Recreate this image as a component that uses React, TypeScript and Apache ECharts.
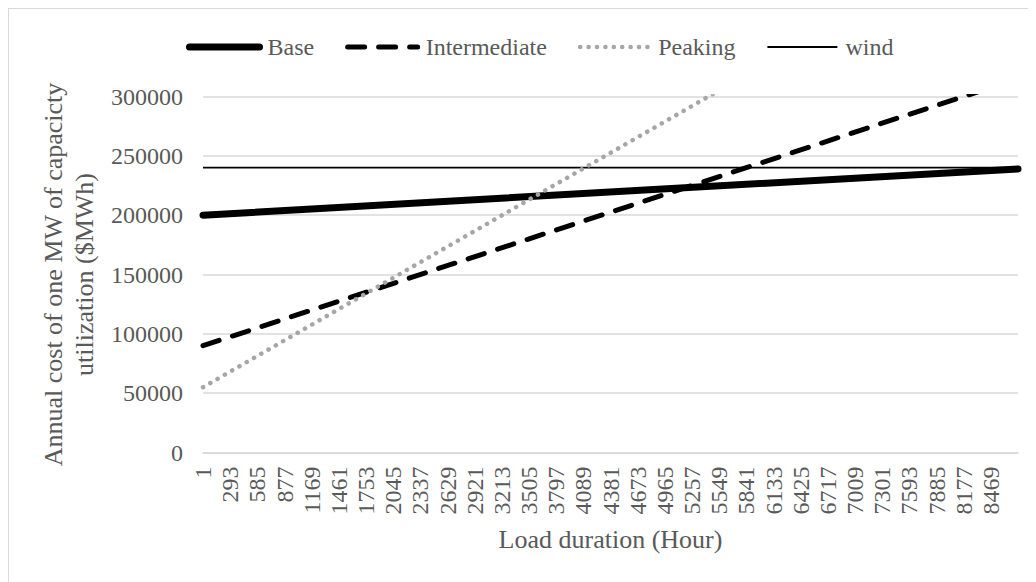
import React, { useEffect, useRef } from "react";
import * as echarts from "echarts";

// Load duration endpoints (hours) and annual cost of one MW at each end
const hours = [1, 8760];
const baseCost = [200000, 239000];
const intermediateCost = [90000, 315000];
const peakingCost = [55000, 450000];
const windCost = [240000, 240000];

// Hour labels shown along the horizontal axis
const hourTicks = [
  1, 293, 585, 877, 1169, 1461, 1753, 2045, 2337, 2629, 2921, 3213, 3505,
  3797, 4089, 4381, 4673, 4965, 5257, 5549, 5841, 6133, 6425, 6717, 7009,
  7301, 7593, 7885, 8177, 8469,
];

const costTicks = [0, 50000, 100000, 150000, 200000, 250000, 300000];

const pairs = (ys: number[]) => hours.map((h, i) => [h, ys[i]]);

const FONT = "'Liberation Serif', 'Times New Roman', serif";
const TEXT = "#595959";
const GRID = "#d9d9d9";

const baseLine = { color: "#000", width: 7, type: "solid", cap: "round" };
const intermediateLine = { color: "#000", width: 5, type: [17, 14], cap: "round" };
const peakingLine = { color: "#a6a6a6", width: 4.5, type: [0.1, 8.3], cap: "round" };
const windLine = { color: "#000", width: 1.8, type: "solid" };

const hiddenSymbol = { opacity: 0 };

export default function App() {
  const ref = useRef<HTMLDivElement>(null);

  useEffect(() => {
    if (!ref.current) return;
    const chart = echarts.init(ref.current, undefined, { renderer: "svg" });
    chart.setOption({
      animation: false,
      textStyle: { fontFamily: FONT, color: TEXT },
      legend: {
        top: 21,
        left: 172,
        itemWidth: 70,
        itemHeight: 14,
        itemGap: 31,
        textStyle: { fontFamily: FONT, fontSize: 24, color: TEXT, padding: [0, 0, 0, 3] },
        data: [
          { name: "Base", lineStyle: baseLine, itemStyle: hiddenSymbol },
          { name: "Intermediate", lineStyle: intermediateLine, itemStyle: hiddenSymbol },
          { name: "Peaking", lineStyle: peakingLine, itemStyle: hiddenSymbol },
          { name: "wind", lineStyle: windLine, itemStyle: hiddenSymbol },
        ],
      },
      grid: { left: 194, top: 87.5, width: 815, height: 356, containLabel: false },
      xAxis: {
        type: "value",
        min: 1,
        max: 8760,
        name: "Load duration (Hour)",
        nameLocation: "middle",
        nameGap: 74,
        nameTextStyle: { fontFamily: FONT, fontSize: 26, color: TEXT },
        axisLine: { show: true, lineStyle: { color: GRID, width: 1.5 } },
        axisTick: { show: false },
        splitLine: { show: false },
        axisLabel: {
          customValues: hourTicks,
          formatter: (v: number) => String(v),
          rotate: 90,
          margin: 14,
          fontFamily: FONT,
          fontSize: 24,
          color: TEXT,
        },
      },
      yAxis: {
        type: "value",
        min: 0,
        max: 300000,
        interval: 50000,
        name: "Annual cost of one MW of capacicty\nutilization ($MWh)",
        nameLocation: "middle",
        nameGap: 97,
        nameTextStyle: { fontFamily: FONT, fontSize: 26, color: TEXT, lineHeight: 31 },
        axisLine: { show: false },
        axisTick: { show: false },
        splitLine: { show: true, lineStyle: { color: GRID, width: 1.5 } },
        axisLabel: {
          customValues: costTicks,
          formatter: (v: number) => String(v),
          margin: 20,
          fontFamily: FONT,
          fontSize: 24,
          color: TEXT,
        },
      },
      series: [
        {
          name: "Base",
          type: "line",
          data: pairs(baseCost),
          symbol: "none",
          lineStyle: baseLine,
          itemStyle: { color: "#000" },
          z: 3,
        },
        {
          name: "Intermediate",
          type: "line",
          data: pairs(intermediateCost),
          symbol: "none",
          lineStyle: intermediateLine,
          itemStyle: { color: "#000" },
          z: 4,
        },
        {
          name: "Peaking",
          type: "line",
          data: pairs(peakingCost),
          symbol: "none",
          lineStyle: peakingLine,
          itemStyle: { color: "#a6a6a6" },
          z: 5,
        },
        {
          name: "wind",
          type: "line",
          data: pairs(windCost),
          symbol: "none",
          lineStyle: windLine,
          itemStyle: { color: "#000" },
          z: 2,
        },
      ],
    });
    return () => chart.dispose();
  }, []);

  return (
    <div
      style={{
        width: 1028,
        height: 574,
        borderLeft: `1.5px solid ${GRID}`,
        borderTop: `1.5px solid ${GRID}`,
        boxSizing: "border-box",
        overflow: "hidden",
      }}
    >
      <div ref={ref} style={{ width: 1027, height: 573 }} />
    </div>
  );
}
